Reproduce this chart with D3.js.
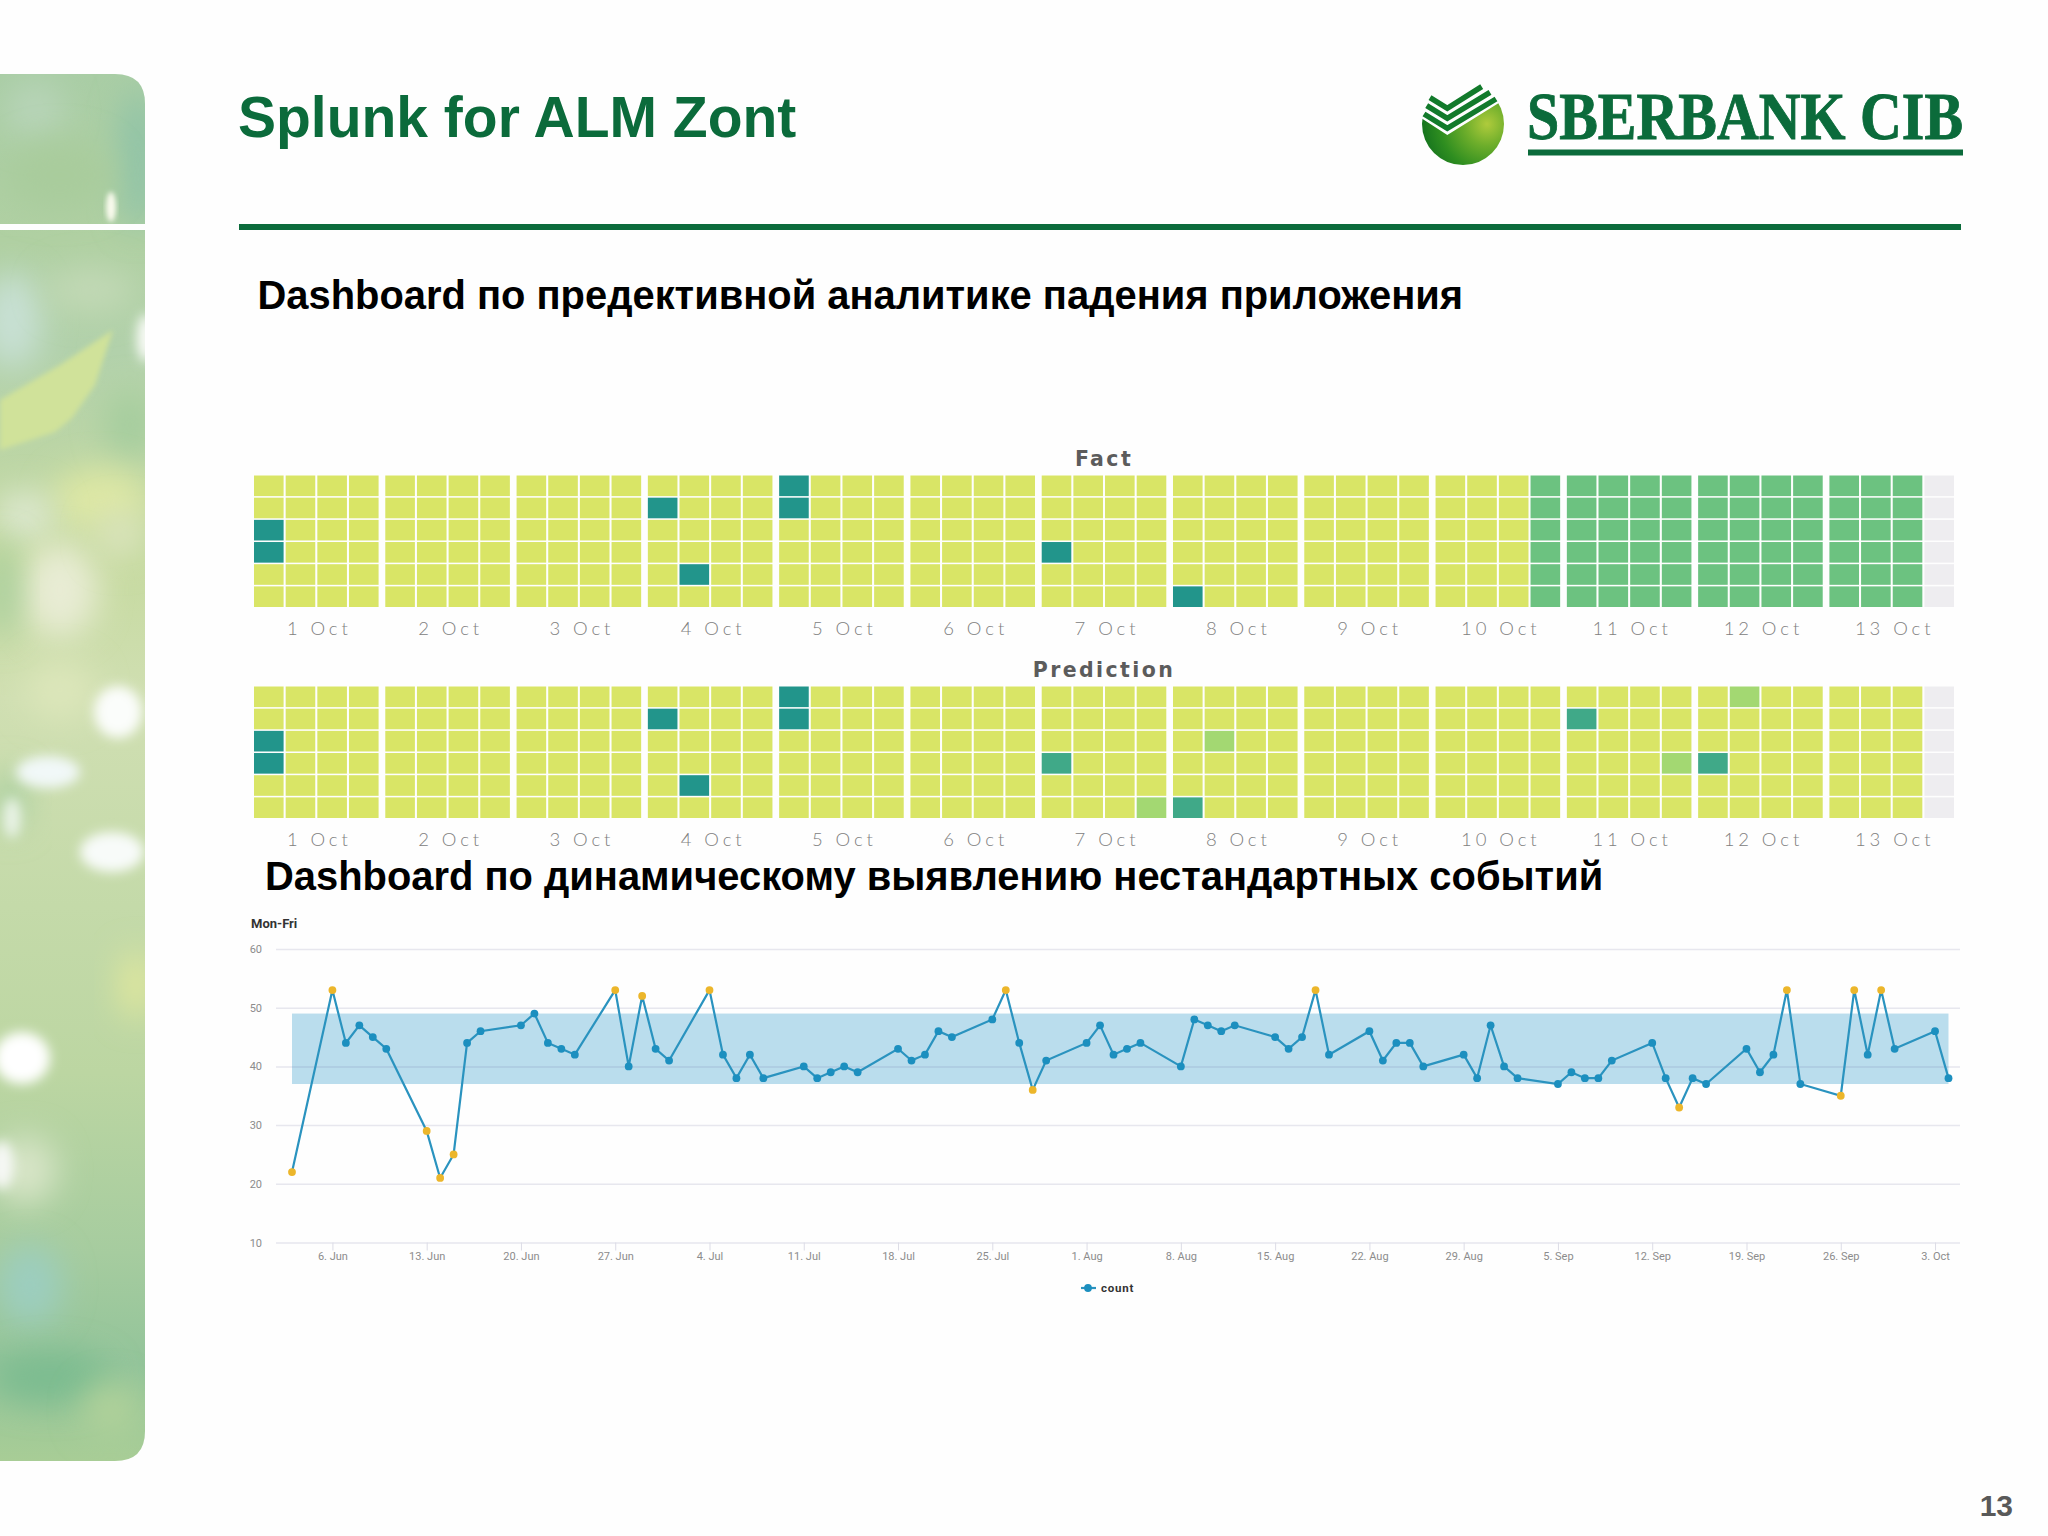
<!DOCTYPE html>
<html>
<head>
<meta charset="utf-8">
<script src="https://d3js.org/d3.v7.min.js"></script>
<style>
  html, body { margin: 0; padding: 0; background: #fefefe; }
  svg { display: block; }
  .day-axis text { font-family: Lato, sans-serif; font-weight: 300; font-size: 18.5px; letter-spacing: 3.9px; fill: #808080; }
  .panel-title { font-family: "DejaVu Sans", sans-serif; font-weight: bold; font-size: 20.5px; letter-spacing: 2.4px; fill: #5c5c5c; text-anchor: middle; }
  .trend-axis text { font-family: Roboto, sans-serif; font-size: 11px; fill: #8c8c8c; }
</style>
</head>
<body>
<div id="slide"></div>
<script>
// heatmap data: one string per row, one group per day, one digit per 6 hour slot
const DAY_LABELS = ["1 Oct", "2 Oct", "3 Oct", "4 Oct", "5 Oct", "6 Oct", "7 Oct",
                    "8 Oct", "9 Oct", "10 Oct", "11 Oct", "12 Oct", "13 Oct"];
const FACT_ROWS = [
  "0000 0000 0000 0000 4000 0000 0000 0000 0000 0002 2222 2222 222-",
  "0000 0000 0000 4000 4000 0000 0000 0000 0000 0002 2222 2222 222-",
  "4000 0000 0000 0000 0000 0000 0000 0000 0000 0002 2222 2222 222-",
  "4000 0000 0000 0000 0000 0000 4000 0000 0000 0002 2222 2222 222-",
  "0000 0000 0000 0400 0000 0000 0000 0000 0000 0002 2222 2222 222-",
  "0000 0000 0000 0000 0000 0000 0000 4000 0000 0002 2222 2222 222-"
];
const PREDICTION_ROWS = [
  "0000 0000 0000 0000 4000 0000 0000 0000 0000 0000 0000 0100 000-",
  "0000 0000 0000 4000 4000 0000 0000 0000 0000 0000 3000 0000 000-",
  "4000 0000 0000 0000 0000 0000 0000 0100 0000 0000 0000 0000 000-",
  "4000 0000 0000 0000 0000 0000 3000 0000 0000 0000 0001 3000 000-",
  "0000 0000 0000 0400 0000 0000 0000 0000 0000 0000 0000 0000 000-",
  "0000 0000 0000 0000 0000 0000 0001 3000 0000 0000 0000 0000 000-"
];
const LEVELS = ["0", "1", "2", "3", "4", "-"];
const LEVEL_COLORS = ["#d9e566", "#a3d872", "#6cc280", "#40a988", "#22958b", "#eeedf0"];

// trend data (weekdays only, so weekends are simply missing)
const TREND_DAYS = [
  "06-03", "06-06", "06-07", "06-08", "06-09", "06-10", "06-13", "06-14", "06-15", "06-16", "06-17",
  "06-20", "06-21", "06-22", "06-23", "06-24", "06-27", "06-28", "06-29", "06-30", "07-01",
  "07-04", "07-05", "07-06", "07-07", "07-08", "07-11", "07-12", "07-13", "07-14", "07-15",
  "07-18", "07-19", "07-20", "07-21", "07-22", "07-25", "07-26", "07-27", "07-28", "07-29",
  "08-01", "08-02", "08-03", "08-04", "08-05", "08-08", "08-09", "08-10", "08-11", "08-12",
  "08-15", "08-16", "08-17", "08-18", "08-19", "08-22", "08-23", "08-24", "08-25", "08-26",
  "08-29", "08-30", "08-31", "09-01", "09-02", "09-05", "09-06", "09-07", "09-08", "09-09",
  "09-12", "09-13", "09-14", "09-15", "09-16", "09-19", "09-20", "09-21", "09-22", "09-23",
  "09-26", "09-27", "09-28", "09-29", "09-30", "10-03", "10-04"
];
const TREND_COUNTS = [
  22, 53, 44, 47, 45, 43, 29, 21, 25, 44, 46,
  47, 49, 44, 43, 42, 53, 40, 52, 43, 41,
  53, 42, 38, 42, 38, 40, 38, 39, 40, 39,
  43, 41, 42, 46, 45, 48, 53, 44, 36, 41,
  44, 47, 42, 43, 44, 40, 48, 47, 46, 47,
  45, 43, 45, 53, 42, 46, 41, 44, 44, 40,
  42, 38, 47, 40, 38, 37, 39, 38, 38, 41,
  44, 38, 33, 38, 37, 43, 39, 42, 53, 37,
  35, 53, 42, 53, 43, 46, 38
];
const TREND_BAND = [37, 49];
const TREND_Y_TICKS = [10, 20, 30, 40, 50, 60];
const TREND_X_TICKS = ["06-06", "06-13", "06-20", "06-27", "07-04", "07-11", "07-18", "07-25",
                       "08-01", "08-08", "08-15", "08-22", "08-29", "09-05", "09-12", "09-19",
                       "09-26", "10-03"];

// colours
const GREEN = "#0b6b3b";
const LINE_BLUE = "#2a93bf";
const DOT_BLUE = "#1c8fbf";
const DOT_GOLD = "#ecb62b";

// make svg frame for the slide
const FRAME = d3.select("#slide")
                .append("svg")
                  .attr("width", 2048)
                  .attr("height", 1536);
const DEFS = FRAME.append("defs");

FRAME.append("rect")
      .attr("width", 2048)
      .attr("height", 1536)
      .attr("fill", "#fefefe");

// left photo strip: there is no image to use, so blurred blobs stand in for the leaves
function draw_strip() {
  const gradient = DEFS.append("linearGradient")
                        .attr("id", "stripBase")
                        .attr("x1", 0).attr("x2", 0).attr("y1", 0).attr("y2", 1);
  [[0, "#a9cda5"], [0.12, "#b0d0a2"], [0.2, "#b2d1ab"], [0.35, "#c6daa0"], [0.45, "#d0dfb2"],
   [0.6, "#c4daa9"], [0.72, "#bcd6a2"], [0.85, "#a6cc9f"], [0.93, "#93c49a"], [1, "#a8cd96"]]
    .forEach((s) => { gradient.append("stop").attr("offset", s[0]).attr("stop-color", s[1]); });

  DEFS.append("filter").attr("id", "soft")
        .attr("x", "-80%").attr("y", "-80%").attr("width", "260%").attr("height", "260%")
      .append("feGaussianBlur").attr("stdDeviation", 16);
  DEFS.append("filter").attr("id", "softer")
        .attr("x", "-80%").attr("y", "-80%").attr("width", "260%").attr("height", "260%")
      .append("feGaussianBlur").attr("stdDeviation", 6);
  DEFS.append("filter").attr("id", "edge")
        .attr("x", "-30%").attr("y", "-30%").attr("width", "160%").attr("height", "160%")
      .append("feGaussianBlur").attr("stdDeviation", 2.5);
  DEFS.append("clipPath").attr("id", "stripClip")
      .append("path")
        .attr("d", "M0,74H115Q145,74 145,104V1431Q145,1461 115,1461H0Z");

  const blobs = [
    [138, 160, 20, 70, "#8fc3a7", "soft"], [35, 110, 30, 30, "#b7d4b8", "soft"],
    [60, 175, 55, 35, "#a9cc9c", "soft"],
    [12, 320, 30, 48, "#c8e0d4", "soft"], [90, 290, 45, 22, "#c2d9b6", "soft"],
    [130, 425, 25, 35, "#a5cd9e", "soft"],
    [100, 500, 48, 32, "#dde7a4", "soft"], [25, 515, 30, 24, "#dde8d0", "soft"],
    [60, 590, 38, 48, "#e8ecd4", "soft"], [3, 590, 14, 50, "#a5cd9c", "soft"],
    [120, 535, 25, 25, "#d9e3bb", "soft"], [60, 690, 35, 30, "#dce6ba", "soft"],
    [10, 800, 16, 30, "#a8cfa0", "soft"], [136, 985, 16, 34, "#e2e89c", "soft"],
    [25, 1170, 32, 34, "#d8e5c8", "soft"], [30, 1285, 32, 40, "#9ccebf", "soft"],
    [50, 1378, 60, 26, "#7cbc90", "soft"], [110, 1410, 28, 26, "#b0d19a", "soft"],
    [118, 712, 24, 26, "#fbfdfb", "softer"], [48, 772, 32, 16, "#f1f8f8", "softer"],
    [12, 818, 9, 20, "#e9f3e6", "softer"],
    [112, 852, 32, 20, "#f8fbf9", "softer"], [22, 1058, 28, 26, "#ffffff", "softer"],
    [2, 1165, 12, 24, "#f6f8f5", "softer"], [146, 338, 9, 24, "#fbfcf9", "softer"],
    [111, 207, 5, 15, "#fafbee", "edge"]
  ];
  const strip = FRAME.append("g").attr("clip-path", "url(#stripClip)");
  strip.append("rect")
        .attr("y", 74)
        .attr("width", 145)
        .attr("height", 1387)
        .attr("fill", "url(#stripBase)");
  strip.selectAll("ellipse")
        .data(blobs)
        .enter()
        .append("ellipse")
          .attr("cx", (d) => { return d[0]; })
          .attr("cy", (d) => { return d[1]; })
          .attr("rx", (d) => { return d[2]; })
          .attr("ry", (d) => { return d[3]; })
          .attr("fill", (d) => { return d[4]; })
          .attr("filter", (d) => { return "url(#" + d[5] + ")"; });
  // the big pale leaf
  strip.append("path")
        .attr("d", "M0,400L60,365L113,330L95,385L72,418L55,432L0,450Z")
        .attr("fill", "#d0e29a")
        .attr("filter", "url(#edge)");
  // white stripe across the photo
  strip.append("rect")
        .attr("y", 224)
        .attr("width", 145)
        .attr("height", 6)
        .attr("fill", "#fefefe");
}
draw_strip();

// header texts
FRAME.append("text")
      .attr("x", 238)
      .attr("y", 137)
      .attr("font-family", "Liberation Sans")
      .attr("font-weight", "bold")
      .attr("font-size", 57)
      .attr("fill", GREEN)
      .text("Splunk for ALM Zont");

FRAME.append("rect")
      .attr("x", 239)
      .attr("y", 224)
      .attr("width", 1722)
      .attr("height", 6)
      .attr("fill", GREEN);

FRAME.append("text")
      .attr("x", 257.5)
      .attr("y", 309)
      .attr("font-family", "Liberation Sans")
      .attr("font-weight", "bold")
      .attr("font-size", 39.9)
      .attr("fill", "#000")
      .text("Dashboard по предективной аналитике падения приложения");

FRAME.append("text")
      .attr("x", 265)
      .attr("y", 890)
      .attr("font-family", "Liberation Sans")
      .attr("font-weight", "bold")
      .attr("font-size", 39.9)
      .attr("fill", "#000")
      .text("Dashboard по динамическому выявлению нестандартных событий");

FRAME.append("text")
      .attr("x", 2013)
      .attr("y", 1516)
      .attr("text-anchor", "end")
      .attr("font-family", "Liberation Sans")
      .attr("font-weight", "bold")
      .attr("font-size", 30)
      .attr("fill", "#595959")
      .text("13");

// logo
function draw_logo() {
  const shine = DEFS.append("radialGradient")
                     .attr("id", "logoShine")
                     .attr("gradientUnits", "userSpaceOnUse")
                     .attr("cx", 1487).attr("cy", 124).attr("r", 72);
  [[0, "#afcb3c"], [0.3, "#6eae2b"], [0.65, "#2f8e20"], [1, "#0c6a1d"]]
    .forEach((s) => { shine.append("stop").attr("offset", s[0]).attr("stop-color", s[1]); });

  DEFS.append("clipPath").attr("id", "logoBody")
      .append("path")
        .attr("d", "M1418,116L1447.3,135L1510,96V175H1418Z");

  FRAME.append("circle")
        .attr("cx", 1463)
        .attr("cy", 124)
        .attr("r", 41)
        .attr("fill", "url(#logoShine)")
        .attr("clip-path", "url(#logoBody)");

  const chevrons = [
    [[1430, 97.7], [1447.3, 108.3], [1481.7, 86.7]],
    [[1426.7, 105.7], [1447.3, 118.3], [1490, 92.3]],
    [[1424, 114], [1447.3, 128.3], [1496, 99]]
  ];
  FRAME.selectAll(".chevron")
        .data(chevrons)
        .enter()
        .append("path")
          .attr("class", "chevron")
          .attr("d", d3.line())
          .attr("fill", "none")
          .attr("stroke", "#127a2b")
          .attr("stroke-width", 5.5);

  FRAME.append("text")
        .attr("x", 1527)
        .attr("y", 139)
        .attr("font-family", "Liberation Serif")
        .attr("font-weight", "bold")
        .attr("font-size", 67)
        .attr("fill", GREEN)
        .attr("stroke", GREEN)
        .attr("stroke-width", 0.9)
        .attr("textLength", 436)
        .attr("lengthAdjust", "spacingAndGlyphs")
        .text("SBERBANK CIB");

  FRAME.append("rect")
        .attr("x", 1528)
        .attr("y", 149.5)
        .attr("width", 435)
        .attr("height", 6)
        .attr("fill", GREEN);
}
draw_logo();

// heatmaps
const DAY_SCALE = d3.scaleBand()
                    .domain(DAY_LABELS)
                    .range([254, 1954])
                    .paddingInner(0.051);
const SLOT_SCALE = d3.scaleBand()
                      .domain([0, 1, 2, 3])
                      .range([0, DAY_SCALE.bandwidth()])
                      .paddingInner(0.065);
const ROW_SCALE = d3.scaleBand()
                    .domain([0, 1, 2, 3, 4, 5])
                    .range([0, 131.5])
                    .paddingInner(0.07);
const LEVEL_COLOR = d3.scaleOrdinal()
                      .domain(LEVELS)
                      .range(LEVEL_COLORS);

function draw_heatmap(rows, title, top, titleY) {
  const cells = [];
  rows.forEach((row, r) => {
    row.split(" ").forEach((day, d) => {
      day.split("").forEach((level, s) => {
        cells.push({day: DAY_LABELS[d], slot: s, row: r, level: level});
      });
    });
  });

  FRAME.append("text")
        .attr("class", "panel-title")
        .attr("x", 1104)
        .attr("y", titleY)
        .text(title);

  FRAME.append("g")
        .selectAll("rect")
        .data(cells)
        .enter()
        .append("rect")
          .attr("x", (d) => { return DAY_SCALE(d.day) + SLOT_SCALE(d.slot); })
          .attr("y", (d) => { return top + ROW_SCALE(d.row); })
          .attr("width", SLOT_SCALE.bandwidth())
          .attr("height", ROW_SCALE.bandwidth())
          .attr("fill", (d) => { return LEVEL_COLOR(d.level); });

  const axis = FRAME.append("g")
                    .attr("class", "day-axis")
                    .attr("transform", "translate(3," + (top + 131.5) + ")")
                    .call(d3.axisBottom(DAY_SCALE).tickSize(0).tickPadding(15));
  axis.select(".domain").remove();
}
draw_heatmap(FACT_ROWS, "Fact", 475.5, 466);
draw_heatmap(PREDICTION_ROWS, "Prediction", 686.5, 677);

// trend chart
function vis_trend() {
  const parseDay = d3.timeParse("%Y-%m-%d");
  const toDate = (d) => { return parseDay("2016-" + d); };
  const data = TREND_DAYS.map((d, i) => { return {date: toDate(d), count: TREND_COUNTS[i]}; });

  const X_SCALE = d3.scaleTime()
                    .domain(d3.extent(data, (d) => { return d.date; }))
                    .range([292, 1948.5]);
  const Y_SCALE = d3.scaleLinear()
                    .domain([10, 60])
                    .range([1242.5, 949]);

  // expected range
  FRAME.append("rect")
        .attr("x", X_SCALE.range()[0])
        .attr("y", Y_SCALE(TREND_BAND[1]))
        .attr("width", X_SCALE.range()[1] - X_SCALE.range()[0])
        .attr("height", Y_SCALE(TREND_BAND[0]) - Y_SCALE(TREND_BAND[1]))
        .attr("fill", "#badded");

  // y axis with gridlines
  const yAxis = FRAME.append("g")
                      .attr("class", "trend-axis")
                      .attr("transform", "translate(276,0)")
                      .call(d3.axisLeft(Y_SCALE)
                              .tickValues(TREND_Y_TICKS)
                              .tickSize(-1684)
                              .tickPadding(14));
  yAxis.select(".domain").remove();
  yAxis.selectAll("line")
        .attr("stroke", "#5a5a8c")
        .attr("stroke-opacity", 0.14)
        .attr("stroke-width", 1.5);

  // x axis
  const xAxis = FRAME.append("g")
                      .attr("class", "trend-axis")
                      .attr("transform", "translate(0," + Y_SCALE(10) + ")")
                      .call(d3.axisBottom(X_SCALE)
                              .tickValues(TREND_X_TICKS.map(toDate))
                              .tickFormat(d3.timeFormat("%-d. %b"))
                              .tickSize(8)
                              .tickPadding(2));
  xAxis.select(".domain").remove();
  xAxis.selectAll("line").attr("stroke", "#dcdce6");

  // line and points
  FRAME.append("path")
        .datum(data)
        .attr("fill", "none")
        .attr("stroke", LINE_BLUE)
        .attr("stroke-width", 2.2)
        .attr("d", d3.line()
                      .x((d) => { return X_SCALE(d.date); })
                      .y((d) => { return Y_SCALE(d.count); }));

  FRAME.append("g")
        .selectAll("circle")
        .data(data)
        .enter()
        .append("circle")
          .attr("cx", (d) => { return X_SCALE(d.date); })
          .attr("cy", (d) => { return Y_SCALE(d.count); })
          .attr("r", 3.9)
          .attr("fill", (d) => {
            return (d.count < TREND_BAND[0] || d.count > TREND_BAND[1]) ? DOT_GOLD : DOT_BLUE;
          });

  // chart title and legend
  FRAME.append("text")
        .attr("x", 251)
        .attr("y", 928)
        .attr("font-family", "Roboto")
        .attr("font-weight", "bold")
        .attr("font-size", 13)
        .attr("fill", "#333")
        .text("Mon-Fri");

  FRAME.append("line")
        .attr("x1", 1081)
        .attr("x2", 1096)
        .attr("y1", 1288)
        .attr("y2", 1288)
        .attr("stroke", LINE_BLUE)
        .attr("stroke-width", 2.2);
  FRAME.append("circle")
        .attr("cx", 1088)
        .attr("cy", 1288)
        .attr("r", 3.9)
        .attr("fill", DOT_BLUE);
  FRAME.append("text")
        .attr("x", 1101)
        .attr("y", 1292)
        .attr("font-family", "Roboto")
        .attr("font-weight", "bold")
        .attr("font-size", 11.5)
        .attr("letter-spacing", 0.8)
        .attr("fill", "#333")
        .text("count");
}
vis_trend();
</script>
</body>
</html>
